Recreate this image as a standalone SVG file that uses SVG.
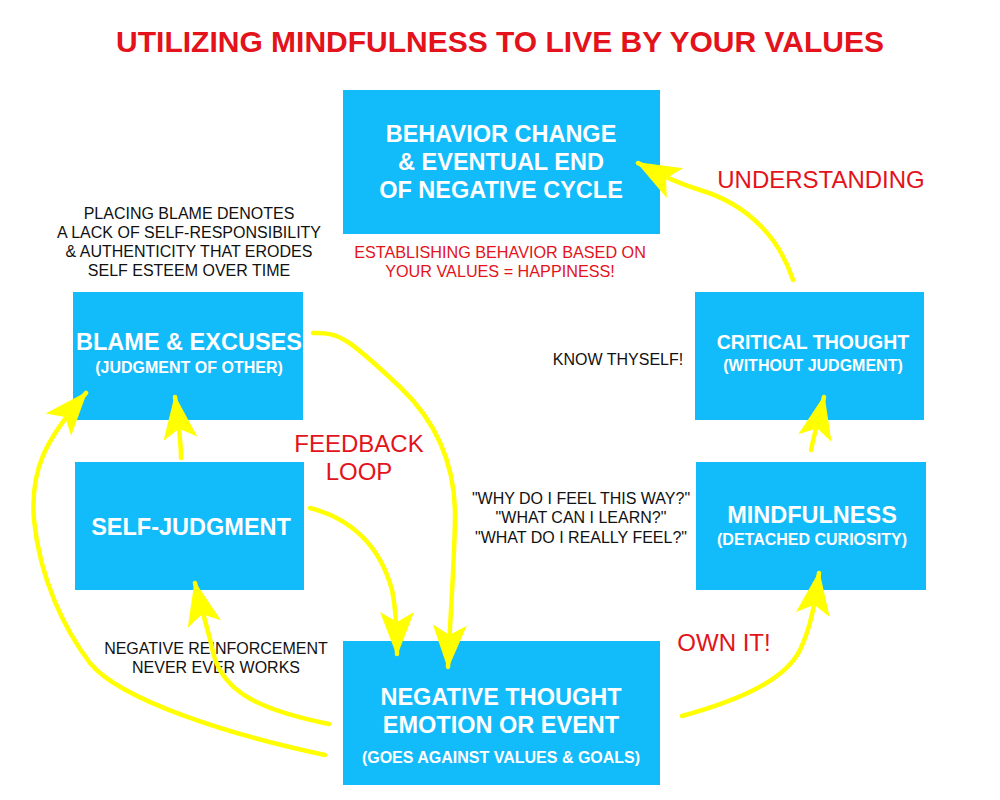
<svg xmlns="http://www.w3.org/2000/svg" width="1000" height="800" viewBox="0 0 1000 800">
<style>
.box{fill:#12BBFA;}
.t{font-family:"Liberation Sans",Arial,sans-serif;text-anchor:middle;}
.w{fill:#fff;font-weight:bold;}
.big{font-size:23.5px;}
.sub{font-size:16px;}
.red{fill:#E3121B;}
.blk{fill:#111;font-size:16px;}
.arr{fill:none;stroke:#FFFF00;stroke-width:4.5;stroke-linecap:round;stroke-linejoin:round;}
</style>
<defs>
<marker id="ah" markerUnits="userSpaceOnUse" viewBox="-46 -21 50 42" refX="0" refY="0" markerWidth="50" markerHeight="42" orient="auto">
<path d="M2,0 L-42,-17 L-32,0 L-42,17 Z" fill="#FFFF00"/>
</marker>
</defs>
<rect width="1000" height="800" fill="#fff"/>
<text class="t red" x="500" y="52" font-size="30" font-weight="bold">UTILIZING MINDFULNESS TO LIVE BY YOUR VALUES</text>

<g id="behavior">
<rect class="box" x="343" y="90" width="317" height="144"/>
<text class="t w big" x="501" y="142">BEHAVIOR CHANGE</text>
<text class="t w big" x="501" y="170">&amp; EVENTUAL END</text>
<text class="t w big" x="501" y="198">OF NEGATIVE CYCLE</text>
</g>
<g id="blame">
<rect class="box" x="73" y="292" width="230" height="128"/>
<text class="t w big" x="189" y="350">BLAME &amp; EXCUSES</text>
<text class="t w sub" x="189" y="373">(JUDGMENT OF OTHER)</text>
</g>
<g id="selfjudgment">
<rect class="box" x="75" y="462" width="229" height="128"/>
<text class="t w big" x="191" y="535">SELF-JUDGMENT</text>
</g>
<g id="negative">
<rect class="box" x="343" y="641" width="317" height="144"/>
<text class="t w big" x="501" y="705">NEGATIVE THOUGHT</text>
<text class="t w big" x="501" y="733">EMOTION OR EVENT</text>
<text class="t w sub" x="501" y="763">(GOES AGAINST VALUES &amp; GOALS)</text>
</g>
<g id="critical">
<rect class="box" x="695" y="292" width="229" height="128"/>
<text class="t w" x="813" y="349" font-size="19.5">CRITICAL THOUGHT</text>
<text class="t w sub" x="813" y="371">(WITHOUT JUDGMENT)</text>
</g>
<g id="mindfulness">
<rect class="box" x="696" y="462" width="230" height="128"/>
<text class="t w big" x="812" y="523">MINDFULNESS</text>
<text class="t w sub" x="812" y="545">(DETACHED CURIOSITY)</text>
</g>

<g id="labels">
<text class="t red" x="500" y="258" font-size="16.2">ESTABLISHING BEHAVIOR BASED ON</text>
<text class="t red" x="500" y="277" font-size="16.2">YOUR VALUES = HAPPINESS!</text>
<text class="t blk" x="189" y="219">PLACING BLAME DENOTES</text>
<text class="t blk" x="189" y="238">A LACK OF SELF-RESPONSIBILITY</text>
<text class="t blk" x="189" y="257">&amp; AUTHENTICITY THAT ERODES</text>
<text class="t blk" x="189" y="276">SELF ESTEEM OVER TIME</text>
<text class="t red" x="359" y="452" font-size="24">FEEDBACK</text>
<text class="t red" x="359" y="480" font-size="24">LOOP</text>
<text class="t blk" x="216" y="654">NEGATIVE REINFORCEMENT</text>
<text class="t blk" x="216" y="673">NEVER EVER WORKS</text>
<text class="t blk" x="618" y="365">KNOW THYSELF!</text>
<text class="t red" x="821" y="188" font-size="24">UNDERSTANDING</text>
<text class="t blk" x="581" y="504">"WHY DO I FEEL THIS WAY?"</text>
<text class="t blk" x="581" y="523">"WHAT CAN I LEARN?"</text>
<text class="t blk" x="581" y="543">"WHAT DO I REALLY FEEL?"</text>
<text class="t red" x="724" y="651" font-size="24">OWN IT!</text>
</g>

<g id="connectors">
<path class="arr" marker-end="url(#ah)" d="M329,724 C260,710 222,692 213,652 C207,625 200,605 195,583"/>
<path class="arr" marker-end="url(#ah)" d="M325,755 C230,735 120,700 90,663 C65,630 40,580 34,520 C30,470 45,440 86,393"/>
<path class="arr" marker-end="url(#ah)" d="M181,458 C181,440 178,420 175,397"/>
<path class="arr" marker-end="url(#ah)" d="M313,333 C340,332 350,340 400,387 C440,425 456,470 455,520 C454,570 450,620 448,667"/>
<path class="arr" marker-end="url(#ah)" d="M310,508 C350,518 380,545 392,590 C396,610 397,630 397,654"/>
<path class="arr" marker-end="url(#ah)" d="M682,716 C740,700 785,680 800,650 C812,625 815,600 819,573"/>
<path class="arr" marker-end="url(#ah)" d="M811,450 C815,430 820,415 824,397"/>
<path class="arr" marker-end="url(#ah)" d="M793,280 C780,240 750,205 700,190 C680,184 660,175 638,163"/>
</g>
</svg>
